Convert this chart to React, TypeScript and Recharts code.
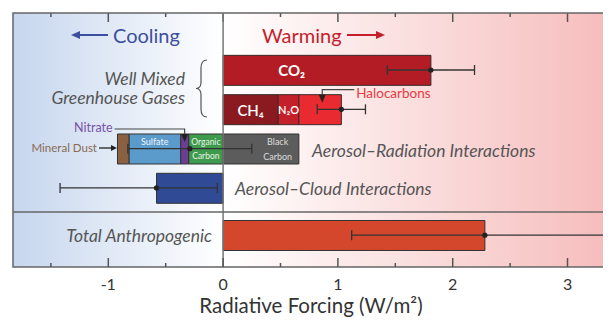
import React from "react";
import {
  ComposedChart,
  Bar,
  Scatter,
  ErrorBar,
  XAxis,
  YAxis,
  CartesianGrid,
  ReferenceArea,
  ReferenceLine,
  LabelList,
  Customized,
} from "recharts";

// rows, top to bottom (position on a numeric y scale)
const rows = ["CO2", "Other WMGHG", "Aerosol-Radiation", "Aerosol-Cloud", "Total"];
const rowPos = [1, 2, 3, 4, 5.2];

// forcing components (W/m2), one value per row, null where absent
const co2 = [1.81, null, null, null, null];
const ch4 = [null, 0.48, null, null, null];
const n2o = [null, 0.18, null, null, null];
const halocarbons = [null, 0.37, null, null, null];
const organicCarbon = [null, null, -0.3, null, null];
const nitrate = [null, null, -0.07, null, null];
const sulfate = [null, null, -0.45, null, null];
const mineralDust = [null, null, -0.1, null, null];
const blackCarbon = [null, null, 0.66, null, null];
const aerosolCloud = [null, null, null, -0.58, null];
const totalAnthro = [null, null, null, null, 2.28];

// best estimate and uncertainty range per row
const bestEstimate = [1.81, 1.03, -0.29, -0.58, 2.28];
const rangeLow = [1.43, 0.82, -0.83, -1.42, 1.12];
const rangeHigh = [2.19, 1.24, 0.25, -0.05, 3.32];

const xTicks = [-1.5, -1, -0.5, 0, 0.5, 1, 1.5, 2, 2.5, 3];
const xDomain = [-1.83, 3.37];
const yDomain = [-0.45, 6.01];
const dividerPos = 4.61;

const FONT = "Lato, 'Open Sans', sans-serif";

const CHART_W = 603;
const CHART_H = 312;
const MARGIN = { top: 5, right: 1, bottom: 23, left: 5 };
const X_AXIS_H = 30;
const PLOT_W = CHART_W - MARGIN.left - MARGIN.right;

const data = rows.map((name, i) => ({
  name,
  pos: rowPos[i],
  co2: co2[i],
  ch4: ch4[i],
  n2o: n2o[i],
  halo: halocarbons[i],
  oc: organicCarbon[i],
  nitrate: nitrate[i],
  sulfate: sulfate[i],
  dust: mineralDust[i],
  bc: blackCarbon[i],
  aci: aerosolCloud[i],
  total: totalAnthro[i],
}));

const errData = rows.map((name, i) => ({
  name,
  pos: rowPos[i],
  mid: bestEstimate[i],
  err: [bestEstimate[i] - rangeLow[i], rangeHigh[i] - bestEstimate[i]],
}));

// where zero sits across the plot, for the cool/warm background
const zeroStop = `${((0 - xDomain[0]) / (xDomain[1] - xDomain[0])) * 100}%`;

// text inside a bar segment; frac = horizontal position inside the bar
const inBar =
  (lines: string[], size: number, color: string, frac = 0.5, weight = 400, rowFrac = 0.5) =>
  (props: any) => {
    const vb = props.viewBox || props;
    if (props.value == null || !vb.width) return null;
    const cx = vb.x + vb.width * frac;
    const gap = size * 1.6;
    const cy = vb.y + vb.height * rowFrac - ((lines.length - 1) * gap) / 2;
    return (
      <g>
        {lines.map((t, k) => (
          <text
            key={k}
            x={cx}
            y={cy + k * gap}
            textAnchor="middle"
            dominantBaseline="central"
            fontSize={size}
            fontWeight={weight}
            fill={color}
            fontFamily={FONT}
          >
            {t}
          </text>
        ))}
      </g>
    );
  };

// callout above a bar: text, leader line and a down arrow into the bar
const callout =
  (label: string, color: string, size: number, arrowFrac: number, textDx: number, side: "left" | "right") =>
  (props: any) => {
    const vb = props.viewBox || props;
    if (props.value == null || !vb.width) return null;
    const ax = vb.x + vb.width * arrowFrac;
    const ly = vb.y - 5;
    const tx = side === "right" ? ax + textDx : ax - textDx;
    return (
      <g>
        <path d={`M ${tx + (side === "right" ? -2 : 2)} ${ly} L ${ax} ${ly} L ${ax} ${vb.y + 1}`} fill="none" stroke="#444" strokeWidth={1.2} />
        <polygon points={`${ax - 3.5},${vb.y} ${ax + 3.5},${vb.y} ${ax},${vb.y + 8}`} fill="#222" />
        <text
          x={tx}
          y={ly + (side === "right" ? 3 : -1)}
          textAnchor={side === "right" ? "start" : "end"}
          dominantBaseline="central"
          fontSize={size}
          fill={color}
          fontFamily={FONT}
        >
          {label}
        </text>
      </g>
    );
  };

// bottom tick marks (pointing up into the plot) with labels below
const BottomTick = (props: any) => {
  const { x, y, payload } = props;
  const major = Number.isInteger(payload.value);
  return (
    <g>
      <line x1={x} x2={x} y1={y} y2={y - (major ? 9 : 4)} stroke="#555" strokeWidth={1.5} />
      {major && (
        <text x={x} y={y + 16} textAnchor="middle" dominantBaseline="central" fontSize={16} fill="#333" fontFamily={FONT}>
          {payload.value}
        </text>
      )}
    </g>
  );
};

// top edge tick marks, same positions as the bottom axis
const xPix = (t: number) => MARGIN.left + ((t - xDomain[0]) / (xDomain[1] - xDomain[0])) * PLOT_W;
const TopTicks = () => (
  <g>
    {xTicks.map((t) => (
      <line
        key={t}
        x1={xPix(t)}
        x2={xPix(t)}
        y1={MARGIN.top}
        y2={MARGIN.top + (Number.isInteger(t) ? 9 : 4)}
        stroke="#555"
        strokeWidth={1.5}
      />
    ))}
  </g>
);

const Dot = (props: any) => <circle cx={props.cx} cy={props.cy} r={2.6} fill="#222" />;

const italic = { fontSize: 17.5, fontStyle: "italic", fill: "#555", fontFamily: FONT } as const;

const Annotations = () => (
  <g fontFamily={FONT}>
    <TopTicks />
    <line x1={68} x2={100} y1={27} y2={27} stroke="#3c4f9e" strokeWidth={2} />
    <polygon points="63,27 72,23 72,31" fill="#3c4f9e" />
    <text x={105} y={27} dominantBaseline="central" fontSize={20} fill="#3c4f9e">Cooling</text>
    <text x={254} y={27} dominantBaseline="central" fontSize={20} fill="#c41e2a">Warming</text>
    <line x1={339} x2={372} y1={27} y2={27} stroke="#c41e2a" strokeWidth={2} />
    <polygon points="377,27 368,23 368,31" fill="#c41e2a" />

    <text x={177} y={70} textAnchor="end" dominantBaseline="central" {...italic}>Well Mixed</text>
    <text x={177} y={89.5} textAnchor="end" dominantBaseline="central" {...italic}>Greenhouse Gases</text>
    <path
      d="M 199 52 Q 193 52 193 60 L 193 74 Q 193 80.5 188 80.5 Q 193 80.5 193 87 L 193 101 Q 193 109 199 109"
      fill="none"
      stroke="#555"
      strokeWidth={1.2}
    />

    <text x={89} y={139} textAnchor="end" dominantBaseline="central" fontSize={11.5} fill="#8a6a50">Mineral Dust</text>
    <line x1={91} x2={105} y1={140} y2={140} stroke="#222" strokeWidth={1.3} />
    <polygon points="109,140 103,137 103,143" fill="#222" />

    <text x={304} y={142} dominantBaseline="central" {...italic}>Aerosol–Radiation Interactions</text>
    <text x={227} y={180} dominantBaseline="central" {...italic}>Aerosol–Cloud Interactions</text>
    <text x={204} y={227} textAnchor="end" dominantBaseline="central" {...italic}>Total Anthropogenic</text>

    <text x={303} y={297} textAnchor="middle" dominantBaseline="central" fontSize={20.5} fill="#333">
      Radiative Forcing (W/m²)
    </text>
  </g>
);

export default function App() {
  return (
    <ComposedChart
      width={CHART_W}
      height={CHART_H}
      data={data}
      layout="vertical"
      stackOffset="sign"
      margin={MARGIN}
    >
      <defs>
        <linearGradient id="bgGrad" x1="0" x2="1" y1="0" y2="0">
          <stop offset="0%" stopColor="#c6d6ee" />
          <stop offset={zeroStop} stopColor="#ffffff" />
          <stop offset="100%" stopColor="#f6bcbc" />
        </linearGradient>
      </defs>
      <CartesianGrid horizontal={false} vertical={false} fill="url(#bgGrad)" fillOpacity={1} />
      <XAxis
        type="number"
        domain={xDomain}
        allowDataOverflow
        ticks={xTicks}
        interval={0}
        axisLine={false}
        tickLine={false}
        tickSize={0}
        tickMargin={0}
        height={X_AXIS_H}
        tick={<BottomTick />}
      />
      <YAxis type="number" dataKey="pos" domain={yDomain} allowDataOverflow hide ticks={[1, 2, 3, 4, 5]} />

      <ReferenceLine x={0} stroke="#777" strokeWidth={1.5} />
      <ReferenceLine y={dividerPos} stroke="#666" strokeWidth={1.5} />

      <Bar dataKey="co2" stackId="a" barSize={30} fill="#b31c24" stroke="#3a2a2a" isAnimationActive={false}>
        <LabelList dataKey="co2" content={inBar(["CO₂"], 15, "#fff", 0.33, 700)} />
      </Bar>
      <Bar dataKey="ch4" stackId="a" barSize={30} fill="#8b1a20" stroke="#3a2a2a" isAnimationActive={false}>
        <LabelList dataKey="ch4" content={inBar(["CH₄"], 15, "#fff", 0.5, 600)} />
      </Bar>
      <Bar dataKey="n2o" stackId="a" barSize={30} fill="#c4202a" stroke="#3a2a2a" isAnimationActive={false}>
        <LabelList dataKey="n2o" content={inBar(["N₂O"], 11, "#fff", 0.5, 600)} />
      </Bar>
      <Bar dataKey="halo" stackId="a" barSize={30} fill="#ea2a31" stroke="#3a2a2a" isAnimationActive={false}>
        <LabelList dataKey="halo" content={callout("Halocarbons", "#e83a40", 13.5, 0.55, 34, "right")} />
      </Bar>
      <Bar dataKey="oc" stackId="a" barSize={30} fill="#3e9a4c" stroke="#333" isAnimationActive={false}>
        <LabelList dataKey="oc" content={inBar(["Organic", "Carbon"], 8.5, "#e8f4e8")} />
      </Bar>
      <Bar dataKey="nitrate" stackId="a" barSize={30} fill="#6c3e92" stroke="#333" isAnimationActive={false}>
        <LabelList dataKey="nitrate" content={callout("Nitrate", "#7a52a6", 12.5, 0.5, 72, "left")} />
      </Bar>
      <Bar dataKey="sulfate" stackId="a" barSize={30} fill="#5b9bcb" stroke="#333" isAnimationActive={false}>
        <LabelList dataKey="sulfate" content={inBar(["Sulfate"], 9, "#eef5fb", 0.5, 400, 0.26)} />
      </Bar>
      <Bar dataKey="dust" stackId="a" barSize={30} fill="#8b6040" stroke="#333" isAnimationActive={false} />
      <Bar dataKey="bc" stackId="a" barSize={30} fill="#5c5c5c" stroke="#333" isAnimationActive={false}>
        <LabelList dataKey="bc" content={inBar(["Black", "Carbon"], 9, "#ddd", 0.72)} />
      </Bar>
      <Bar dataKey="aci" stackId="a" barSize={30} fill="#314a96" stroke="#333" isAnimationActive={false} />
      <Bar dataKey="total" stackId="a" barSize={31} fill="#d4472c" stroke="#333" isAnimationActive={false} />

      <Scatter data={errData} dataKey="mid" shape={<Dot />} isAnimationActive={false}>
        <ErrorBar dataKey="err" direction="x" width={5} stroke="#333" strokeWidth={1.3} isAnimationActive={false} />
      </Scatter>

      <Customized component={<Annotations />} />

      <ReferenceArea x1={xDomain[0]} x2={xDomain[1]} y1={yDomain[0]} y2={yDomain[1]} fill="none" stroke="#666" strokeWidth={1.5} />
    </ComposedChart>
  );
}
